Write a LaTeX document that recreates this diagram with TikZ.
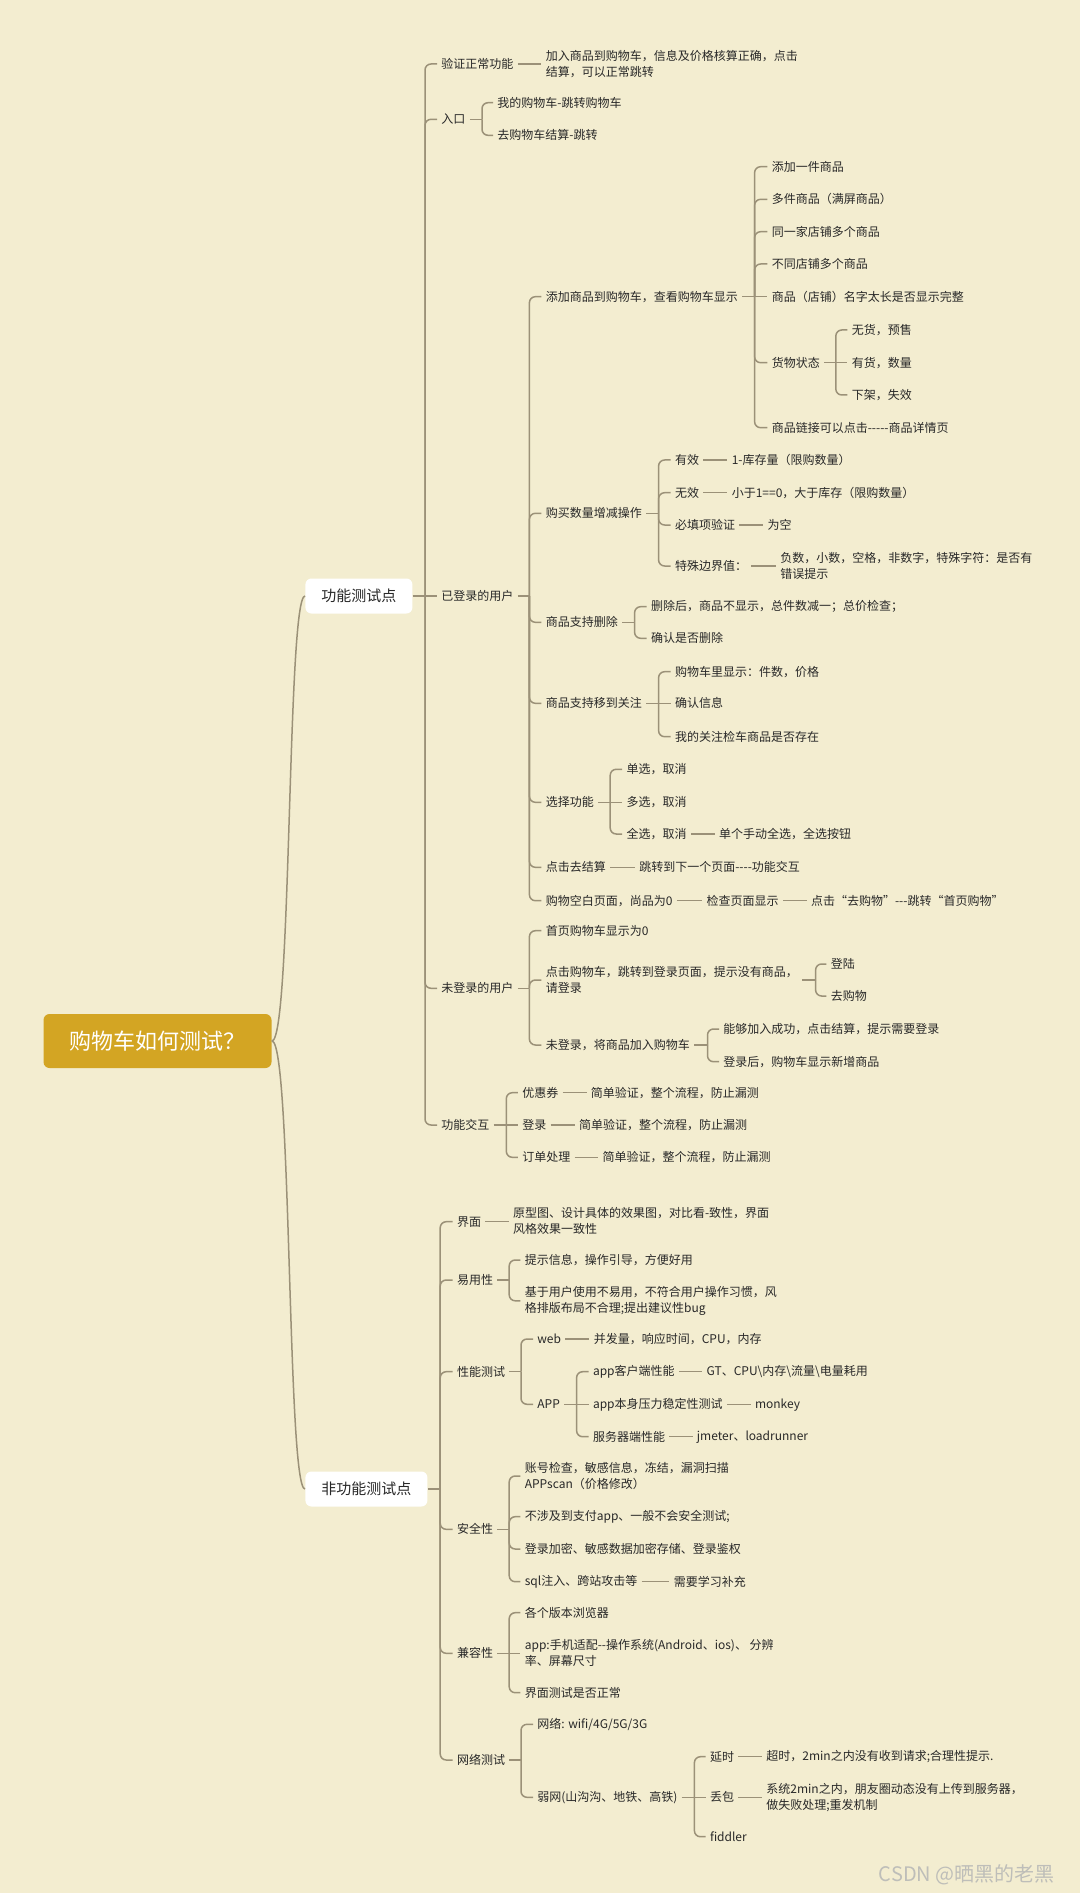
\documentclass[tikz,border=0pt]{standalone}
\usepackage{fontspec}
\newfontfamily\cjk{Noto Sans CJK SC}
\definecolor{bg}{RGB}{243,237,208}
\definecolor{lnc}{RGB}{155,145,120}
\definecolor{txt}{RGB}{40,40,40}
\definecolor{gold}{RGB}{211,165,35}
\definecolor{wm}{RGB}{190,190,185}
\newcommand\mmstrut{\vrule height 5.2pt depth 0.8pt width 0pt}
\newcommand\mmsplit[3]{%
  \draw[ln] (#1.east) -- (#1.east -| #2,0);
  \foreach \mmc in {#3}{\draw[cn] (#1.east -| #2,0) |- (\mmc.west);}%
}
\begin{document}
\begin{tikzpicture}[x=0.5pt,y=-0.5pt,
  ln/.style={draw=lnc,line width=0.75pt},
  cn/.style={ln,rounded corners=3pt},
  t/.style={anchor=west,inner xsep=2pt,inner ysep=0pt,xshift=-2pt,text=txt,align=left,
    font=\cjk\fontsize{6}{8}\selectfont,execute at begin node=\mmstrut,execute at end node=\mmstrut},
  lvtwo/.style={anchor=west,fill=white,rounded corners=3pt,inner xsep=8pt,inner ysep=0pt,minimum height=17.5pt,
    text=txt,font=\cjk\fontsize{7.5}{9}\selectfont},
  rootbox/.style={fill=gold,rounded corners=3pt,inner xsep=13pt,inner ysep=0pt,minimum height=27pt,
    text=white,font=\cjk\fontsize{11}{13}\selectfont}]
\fill[bg] (0,0) rectangle (1080,1893);
\useasboundingbox (0,0) rectangle (1080,1893);

% root and level 2
\node[rootbox] (root) at (157.5,1041) {购物车如何测试？};
\node[lvtwo] (F) at (305,596) {功能测试点};
\node[lvtwo] (N) at (305,1489) {非功能测试点};

% ---------- functional ----------
\node[t] (A1) at (441,64) {验证正常功能};
\node[t] (A1a) at (545.4,64) {加入商品到购物车，信息及价格核算正确，点击\\结算，可以正常跳转};
\node[t] (A2) at (441,119.3) {入口};
\node[t] (A2a) at (497,102.7) {我的购物车-跳转购物车};
\node[t] (A2b) at (497,135.3) {去购物车结算-跳转};
\node[t] (A3) at (441,596) {已登录的用户};
\node[t] (B1) at (545.4,296.7) {添加商品到购物车，查看购物车显示};
\node[t] (C1) at (771.4,166.7) {添加一件商品};
\node[t] (C2) at (771.4,199.3) {多件商品（满屏商品）};
\node[t] (C3) at (771.4,231.7) {同一家店铺多个商品};
\node[t] (C4) at (771.4,264) {不同店铺多个商品};
\node[t] (C5) at (771.4,296.7) {商品（店铺）名字太长是否显示完整};
\node[t] (C6) at (771.4,362.7) {货物状态};
\node[t] (C7) at (771.4,427.7) {商品链接可以点击-----商品详情页};
\node[t] (G1) at (851.4,330) {无货，预售};
\node[t] (G2) at (851.4,362.7) {有货，数量};
\node[t] (G3) at (851.4,395) {下架，失效};
\node[t] (B2) at (545.4,513.3) {购买数量增减操作};
\node[t] (D1) at (674.6,460) {有效};
\node[t] (D1a) at (731.4,460) {1-库存量（限购数量）};
\node[t] (D2) at (674.6,492.7) {无效};
\node[t] (D2a) at (731.4,492.7) {小于1==0，大于库存（限购数量）};
\node[t] (D3) at (674.6,525) {必填项验证};
\node[t] (D3a) at (767.2,525) {为空};
\node[t] (D4) at (674.6,566) {特殊边界值：};
\node[t] (D4a) at (779.9,566) {负数，小数，空格，非数字，特殊字符：是否有\\错误提示};
\node[t] (B3) at (545.4,622.3) {商品支持删除};
\node[t] (H1) at (650.6,606.7) {删除后，商品不显示，总件数减一；总价检查；};
\node[t] (H2) at (650.6,638.3) {确认是否删除};
\node[t] (B4) at (545.4,703.3) {商品支持移到关注};
\node[t] (I1) at (674.6,671.7) {购物车里显示：件数，价格};
\node[t] (I2) at (674.6,703.3) {确认信息};
\node[t] (I3) at (674.6,736.7) {我的关注检车商品是否存在};
\node[t] (B5) at (545.4,802.3) {选择功能};
\node[t] (J1) at (626.2,769.3) {单选，取消};
\node[t] (J2) at (626.2,802.3) {多选，取消};
\node[t] (J3) at (626.2,834) {全选，取消};
\node[t] (J3a) at (718.8,834) {单个手动全选，全选按钮};
\node[t] (B6) at (545.4,867.3) {点击去结算};
\node[t] (B6a) at (638.9,867.3) {跳转到下一个页面----功能交互};
\node[t] (B7) at (545.4,900.7) {购物空白页面，尚品为0};
\node[t] (B7a) at (706.2,900.7) {检查页面显示};
\node[t] (B7b) at (810.6,900.7) {点击“去购物”---跳转“首页购物”};
\node[t] (A4) at (441,988.3) {未登录的用户};
\node[t] (E1) at (545.4,930.7) {首页购物车显示为0};
\node[t] (E2) at (545.4,980) {点击购物车，跳转到登录页面，提示没有商品，\\请登录};
\node[t] (K1) at (830.4,964) {登陆};
\node[t] (K2) at (830.4,996) {去购物};
\node[t] (E3) at (545.4,1045) {未登录，将商品加入购物车};
\node[t] (L1) at (723,1029) {能够加入成功，点击结算，提示需要登录};
\node[t] (L2) at (723,1061.7) {登录后，购物车显示新增商品};
\node[t] (A5) at (441,1125) {功能交互};
\node[t] (M1) at (521.9,1092.7) {优惠券};
\node[t] (M1a) at (590.5,1092.7) {简单验证，整个流程，防止漏测};
\node[t] (M2) at (521.9,1125) {登录};
\node[t] (M2a) at (578.7,1125) {简单验证，整个流程，防止漏测};
\node[t] (M3) at (521.9,1157.3) {订单处理};
\node[t] (M3a) at (602.2,1157.3) {简单验证，整个流程，防止漏测};

% ---------- non-functional ----------
\node[t] (N1) at (456.6,1221.7) {界面};
\node[t] (N1a) at (512.6,1221.7) {原型图、设计具体的效果图，对比看-致性，界面\\风格效果一致性};
\node[t] (N2) at (456.6,1280) {易用性};
\node[t] (O1) at (524.4,1260) {提示信息，操作引导，方便好用};
\node[t] (O2) at (524.4,1300.8) {基于用户使用不易用，不符合用户操作习惯，风\\格排版布局不合理;提出建议性bug};
\node[t] (N3) at (456.6,1371.7) {性能测试};
\node[t] (P1) at (537,1339) {web};
\node[t] (P1a) at (593.4,1339) {并发量，响应时间，CPU，内存};
\node[t] (P2) at (537,1404.3) {APP};
\node[t] (Q1) at (592.6,1371.7) {app客户端性能};
\node[t] (Q1a) at (706.2,1371.7) {GT、CPU\textbackslash 内存\textbackslash 流量\textbackslash 电量耗用};
\node[t] (Q2) at (592.6,1404.3) {app本身压力稳定性测试};
\node[t] (Q2a) at (754.6,1404.3) {monkey};
\node[t] (Q3) at (592.6,1436.7) {服务器端性能};
\node[t] (Q3a) at (696.5,1436.7) {jmeter、loadrunner};
\node[t] (N4) at (456.6,1529.3) {安全性};
\node[t] (R1) at (524.4,1476) {账号检查，敏感信息，冻结，漏洞扫描\\APPscan（价格修改）};
\node[t] (R2) at (524.4,1516.7) {不涉及到支付app、一般不会安全测试;};
\node[t] (R3) at (524.4,1549) {登录加密、敏感数据加密存储、登录鉴权};
\node[t] (R4) at (524.4,1581.7) {sql注入、跨站攻击等};
\node[t] (R4a) at (673.4,1581.7) {需要学习补充};
\node[t] (N5) at (456.6,1653.3) {兼容性};
\node[t] (T1) at (524.4,1612.7) {各个版本浏览器};
\node[t] (T2) at (524.4,1653.3) {app:手机适配--操作系统(Android、ios)、 分辨\\率、屏幕尺寸};
\node[t] (T3) at (524.4,1692.7) {界面测试是否正常};
\node[t] (N6) at (456.6,1760) {网络测试};
\node[t] (U1) at (537,1724.3) {网络: wifi/4G/5G/3G};
\node[t] (U2) at (537,1797.3) {弱网(山沟沟、地铁、高铁)};
\node[t] (V1) at (709.6,1756.7) {延时};
\node[t] (V1a) at (766,1756.7) {超时，2min之内没有收到请求;合理性提示.};
\node[t] (V2) at (709.6,1797.3) {丢包};
\node[t] (V2a) at (766,1797.3) {系统2min之内，朋友圈动态没有上传到服务器，\\做失败处理;重发机制};
\node[t] (V3) at (709.6,1836.7) {fiddler};

\node[anchor=east,inner sep=0pt,text=wm,font=\cjk\fontsize{10}{12}\selectfont] (wmk) at (1055,1875) {CSDN @晒黑的老黑};

% ---------- connectors ----------
\draw[ln] (root.east) .. controls +(20,0) and +(-18,0) .. (F.west);
\draw[ln] (root.east) .. controls +(20,0) and +(-18,0) .. (N.west);

\mmsplit{F}{425}{A1,A2,A4,A5}
\draw[ln] (F.east) -- (A3.west);
\draw[ln] (A1.east) -- (A1a.west);
\mmsplit{A2}{482}{A2a,A2b}
\mmsplit{A3}{529.4}{B1,B2,B3,B4,B5,B6,B7}
\mmsplit{B1}{754.6}{C1,C2,C3,C4,C6,C7}
\draw[ln] (B1.east) -- (C5.west);
\mmsplit{C6}{835.8}{G1,G3}
\draw[ln] (C6.east) -- (G2.west);
\mmsplit{B2}{658.6}{D1,D2,D3,D4}
\draw[ln] (D1.east) -- (D1a.west);
\draw[ln] (D2.east) -- (D2a.west);
\draw[ln] (D3.east) -- (D3a.west);
\draw[ln] (D4.east) -- (D4a.west);
\mmsplit{B3}{634.6}{H1,H2}
\mmsplit{B4}{658.6}{I1,I3}
\draw[ln] (B4.east) -- (I2.west);
\mmsplit{B5}{610.2}{J1,J3}
\draw[ln] (B5.east) -- (J2.west);
\draw[ln] (J3.east) -- (J3a.west);
\draw[ln] (B6.east) -- (B6a.west);
\draw[ln] (B7.east) -- (B7a.west);
\draw[ln] (B7a.east) -- (B7b.west);
\mmsplit{A4}{529.4}{E1,E2,E3}
\mmsplit{E2}{815.6}{K1,K2}
\mmsplit{E3}{707.5}{L1,L2}
\mmsplit{A5}{506.3}{M1,M3}
\draw[ln] (A5.east) -- (M2.west);
\draw[ln] (M1.east) -- (M1a.west);
\draw[ln] (M2.east) -- (M2a.west);
\draw[ln] (M3.east) -- (M3a.west);

\mmsplit{N}{440.2}{N1,N2,N3,N4,N5,N6}
\draw[ln] (N1.east) -- (N1a.west);
\mmsplit{N2}{509.2}{O1,O2}
\mmsplit{N3}{521}{P1,P2}
\draw[ln] (P1.east) -- (P1a.west);
\mmsplit{P2}{576.6}{Q1,Q3}
\draw[ln] (P2.east) -- (Q2.west);
\draw[ln] (Q1.east) -- (Q1a.west);
\draw[ln] (Q2.east) -- (Q2a.west);
\draw[ln] (Q3.east) -- (Q3a.west);
\mmsplit{N4}{509.2}{R1,R2,R3,R4}
\draw[ln] (R4.east) -- (R4a.west);
\mmsplit{N5}{509.2}{T1,T3}
\draw[ln] (N5.east) -- (T2.west);
\mmsplit{N6}{521}{U1,U2}
\mmsplit{U2}{694.4}{V1,V3}
\draw[ln] (U2.east) -- (V2.west);
\draw[ln] (V1.east) -- (V1a.west);
\draw[ln] (V2.east) -- (V2a.west);
\end{tikzpicture}
\end{document}
